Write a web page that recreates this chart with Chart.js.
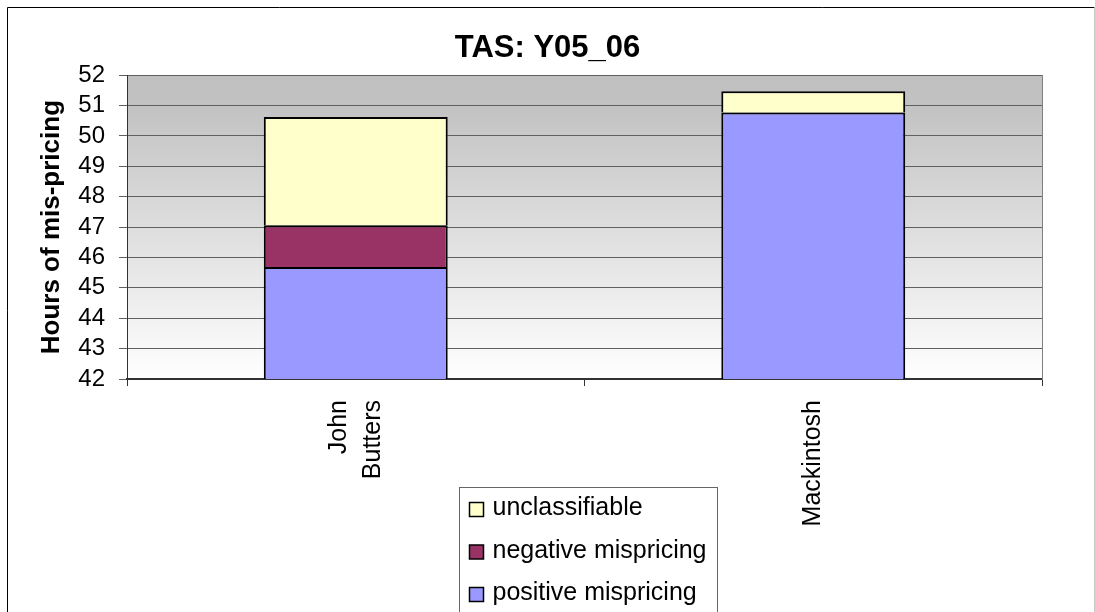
<!DOCTYPE html>
<html>
<head>
<meta charset="utf-8">
<script src="https://cdn.jsdelivr.net/npm/chart.js"></script>
<style>
  html, body { margin: 0; padding: 0; background: #fff; }
  #wrap { width: 1095px; height: 612px; }
</style>
</head>
<body>
<div id="wrap"><canvas id="misChart" width="1095" height="612"></canvas></div>
<script>
// data
var categories = [['John', 'Butters'], 'Mackintosh'];
var positiveMispricing = [45.69, 50.77];
var negativeMispricing = [1.37, 0];
var unclassifiable = [3.56, 0.70];
var seriesNames = ['positive mispricing', 'negative mispricing', 'unclassifiable'];
var yMin = 42;
var yMax = 52;
var yStep = 1;

Chart.defaults.font.family = "'Liberation Sans', Arial, sans-serif";
Chart.defaults.color = '#000';

var xTickFont = { size: 25, lineHeight: 1.35 };

// white page, outer frame and grey gradient behind the plot
var chartBackground = {
  id: 'chartBackground',
  beforeDraw: function (chart) {
    var ctx = chart.ctx;
    var a = chart.chartArea;
    ctx.save();
    ctx.fillStyle = '#fff';
    ctx.fillRect(0, 0, chart.width, chart.height);
    var g = ctx.createLinearGradient(0, a.top, 0, a.bottom);
    g.addColorStop(0, '#c0c0c0');
    g.addColorStop(0.08, '#c1c1c1');
    g.addColorStop(1, '#ffffff');
    ctx.fillStyle = g;
    ctx.fillRect(a.left, a.top, a.right - a.left, a.bottom - a.top);
    ctx.strokeStyle = '#000';
    ctx.lineWidth = 1;
    ctx.beginPath();
    ctx.moveTo(7.5, chart.height + 5);
    ctx.lineTo(7.5, 7.5);
    ctx.lineTo(1094.5, 7.5);
    ctx.stroke();
    ctx.strokeStyle = '#c8c8c8';
    ctx.beginPath();
    ctx.moveTo(1094.5, 7.5);
    ctx.lineTo(1094.5, chart.height + 5);
    ctx.stroke();
    ctx.restore();

    // centre two-line category labels on their tick, like excel does
    var lh = xTickFont.size * xTickFont.lineHeight;
    chart.scales.x.getLabelItems(a).forEach(function (item) {
      if (Array.isArray(item.label) && !item.centred) {
        item.options.translation[0] -= (item.label.length - 1) * lh / 2;
        item.centred = true;
      }
    });
  }
};

// legend as a vertical list under the axis (chart.js only lays bottom legends in rows)
var boxLegend = {
  id: 'boxLegend',
  afterDraw: function (chart) {
    var ctx = chart.ctx;
    var a = chart.chartArea;
    var left = Math.round((a.left + a.right) / 2 - 126) + 0.5;
    var top = a.bottom + 108.5;
    ctx.save();
    ctx.fillStyle = '#fff';
    ctx.fillRect(left, top, 258, 200);
    ctx.strokeStyle = '#666';
    ctx.lineWidth = 1;
    ctx.strokeRect(left, top, 258, 200);
    ctx.font = "25px 'Liberation Sans', Arial, sans-serif";
    ctx.textBaseline = 'middle';
    var ds = chart.data.datasets.slice().reverse();
    ds.forEach(function (d, i) {
      var cy = top + 21 + i * 42.5;
      ctx.fillStyle = d.backgroundColor;
      ctx.fillRect(left + 10, cy - 6, 14, 14);
      ctx.strokeStyle = '#000';
      ctx.lineWidth = 1.5;
      ctx.strokeRect(left + 10, cy - 6, 14, 14);
      ctx.fillStyle = '#000';
      ctx.fillText(d.label, left + 33, cy);
    });
    ctx.restore();
  }
};

var ctxEl = document.getElementById('misChart');
new Chart(ctxEl, {
  type: 'bar',
  data: {
    labels: categories,
    datasets: [{
      label: seriesNames[0],
      data: positiveMispricing,
      backgroundColor: '#9999ff'
    }, {
      label: seriesNames[1],
      data: negativeMispricing,
      backgroundColor: '#993366'
    }, {
      label: seriesNames[2],
      data: unclassifiable,
      backgroundColor: '#ffffcc'
    }]
  },
  options: {
    responsive: false,
    animation: false,
    devicePixelRatio: 1,
    layout: { padding: 0 },
    datasets: {
      bar: {
        borderColor: '#000',
        borderWidth: 2,
        borderSkipped: 'start',
        barPercentage: 0.402,
        categoryPercentage: 1,
        clip: { left: 4, right: 4, top: 4, bottom: 0 }
      }
    },
    plugins: {
      legend: { display: false },
      tooltip: { enabled: false },
      title: {
        display: true,
        text: 'TAS: Y05_06',
        color: '#000',
        font: { size: 31, weight: 'bold' },
        padding: { top: 30, bottom: 8 }
      }
    },
    scales: {
      x: {
        stacked: true,
        grid: {
          offset: true,
          drawOnChartArea: false,
          drawTicks: true,
          tickLength: 7,
          color: '#333'
        },
        border: { color: '#333', width: 2 },
        ticks: {
          autoSkip: false,
          minRotation: 90,
          maxRotation: 90,
          padding: 14,
          color: '#000',
          font: xTickFont
        },
        afterFit: function (scale) { scale.height = 233; }
      },
      y: {
        stacked: true,
        min: yMin,
        max: yMax,
        grid: { color: '#606060', tickLength: 8 },
        border: { color: '#333', width: 1 },
        ticks: {
          stepSize: yStep,
          autoSkip: false,
          padding: 14,
          color: '#000',
          font: { size: 24 }
        },
        title: {
          display: true,
          text: 'Hours of mis-pricing',
          color: '#000',
          font: { size: 26, weight: 'bold' },
          padding: { top: 36, bottom: 0 }
        },
        afterFit: function (scale) { scale.width = 127; }
      },
      yRight: {
        position: 'right',
        grid: { display: false, drawTicks: false },
        border: { display: true, color: '#808080', width: 1 },
        ticks: { display: false },
        afterFit: function (scale) { scale.width = 53; }
      }
    }
  },
  plugins: [chartBackground, boxLegend]
});
</script>
</body>
</html>
